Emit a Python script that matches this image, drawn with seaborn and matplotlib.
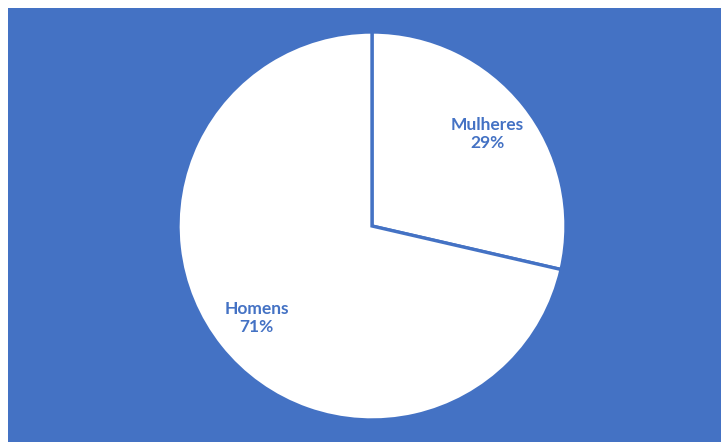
import matplotlib
matplotlib.use("Agg")
import matplotlib.pyplot as plt
import seaborn as sns

# Share of respondents by gender
categories = ["Mulheres", "Homens"]
shares = [28.6, 71.4]

BLUE = "#4472C4"

sns.set_theme(style="white")
plt.rcParams["font.family"] = ["Lato", "DejaVu Sans"]

fig = plt.figure(figsize=(7.21, 4.42), dpi=100, facecolor="white")

# Blue panel behind the pie
bg = fig.add_axes([8 / 721, 0, 1 - 8 / 721, 1 - 8 / 442], zorder=0)
bg.set_facecolor(BLUE)
bg.set_xticks([])
bg.set_yticks([])
for s in bg.spines.values():
    s.set_visible(False)

ax = fig.add_axes([178 / 721, 22 / 442, 388 / 721, 388 / 442], zorder=1)
ax.set_facecolor("none")

labels = [f"{c}\n{round(s):.0f}%" for c, s in zip(categories, shares)]
wedges, texts = ax.pie(
    shares,
    labels=labels,
    colors=["white", "white"],
    startangle=90,
    counterclock=False,
    labeldistance=0.76,
    wedgeprops=dict(edgecolor=BLUE, linewidth=2.4),
    textprops=dict(color=BLUE, fontsize=12.5, fontweight="bold",
                   ha="center", va="center", linespacing=1.2),
)
for t in texts:
    t.set_horizontalalignment("center")
    t.set_verticalalignment("center")

ax.set_xlim(-1, 1)
ax.set_ylim(-1, 1)
ax.set_aspect("equal")
ax.axis("off")

fig.savefig("out.png", dpi=100, facecolor="white")
